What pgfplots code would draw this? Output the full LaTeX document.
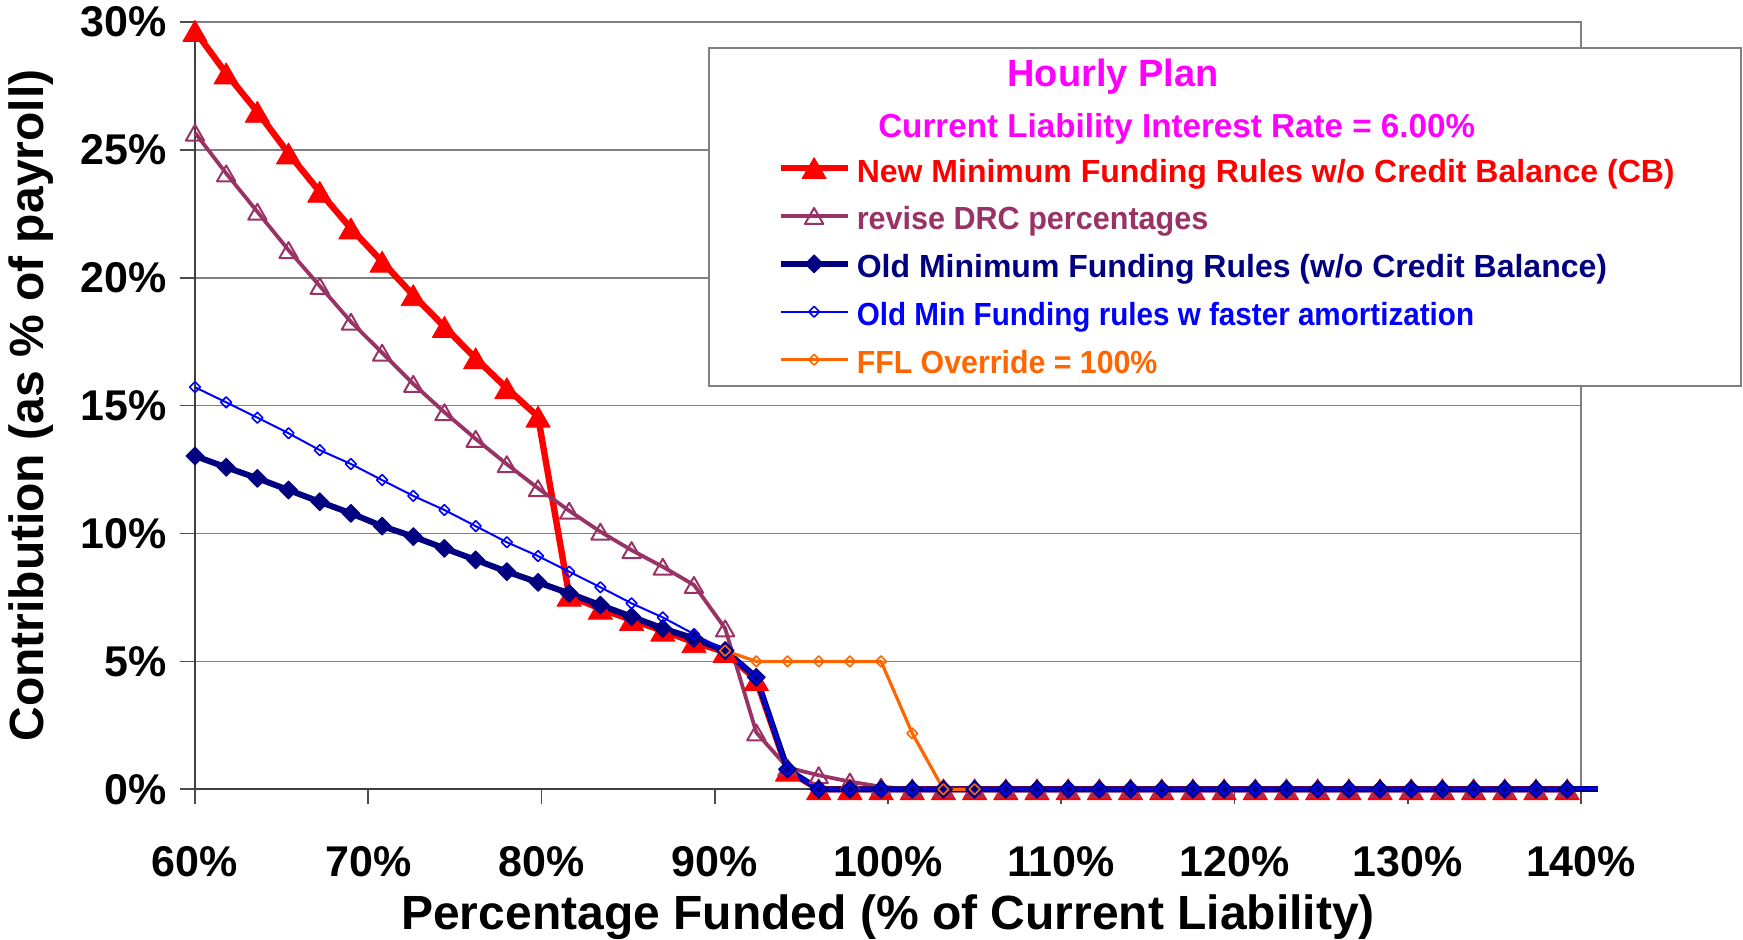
\documentclass[border=0pt]{standalone}
\usepackage{pgfplots}
\pgfplotsset{compat=1.18}
\usepackage{pgfplotstable}
\usepackage{graphicx}
\usepackage{fontspec}
\setmainfont{Liberation Sans}
\definecolor{cred}{RGB}{255,0,0}
\definecolor{cplum}{RGB}{153,51,102}
\definecolor{cnavy}{RGB}{0,0,128}
\definecolor{cblue}{RGB}{0,0,255}
\definecolor{corange}{RGB}{255,102,0}
\definecolor{cmag}{RGB}{255,0,255}
\definecolor{cgrid}{RGB}{128,128,128}
\pgfplotstableread{
x new drc old fast
60.0 29.65 25.67 13.03 15.72
61.8 27.99 24.08 12.59 15.13
63.6 26.49 22.58 12.16 14.53
65.4 24.86 21.08 11.70 13.92
67.2 23.36 19.68 11.24 13.26
69.0 21.93 18.28 10.79 12.72
70.8 20.63 17.07 10.29 12.09
72.6 19.32 15.85 9.88 11.47
74.4 18.08 14.74 9.42 10.92
76.2 16.85 13.70 8.97 10.29
78.0 15.68 12.71 8.51 9.66
79.8 14.57 11.77 8.09 9.12
81.6 7.57 10.89 7.66 8.51
83.4 7.06 10.07 7.20 7.90
85.2 6.62 9.35 6.75 7.27
87.0 6.20 8.70 6.29 6.72
88.8 5.75 7.99 5.90 6.07
90.6 5.37 6.29 5.42 5.42
92.4 4.27 2.22 4.38 4.38
94.2 0.73 0.85 0.78 0.78
96.0 0 0.55 0 0
97.8 0 0.30 0 0
99.6 0 0.10 0 0
101.4 0 0 0 0
103.2 0 0 0 0
105.0 0 0 0 0
106.8 0 0 0 0
108.6 0 0 0 0
110.4 0 0 0 0
112.2 0 0 0 0
114.0 0 0 0 0
115.8 0 0 0 0
117.6 0 0 0 0
119.4 0 0 0 0
121.2 0 0 0 0
123.0 0 0 0 0
124.8 0 0 0 0
126.6 0 0 0 0
128.4 0 0 0 0
130.2 0 0 0 0
132.0 0 0 0 0
133.8 0 0 0 0
135.6 0 0 0 0
137.4 0 0 0 0
139.2 0 0 0 0
}\maindata
\pgfplotstableread{
x ffl
90.6 5.42
92.4 5.0
94.2 5.0
96.0 5.0
97.8 5.0
99.6 5.0
101.4 2.19
103.2 0
105.0 0
}\ffldata
\begin{document}
\begin{tikzpicture}
\begin{axis}[
  scale only axis, width=693pt, height=383.65pt,
  xmin=60, xmax=140, ymin=0, ymax=30,
  xtick={60,70,...,140},
  xticklabels={60\%,70\%,80\%,90\%,100\%,110\%,120\%,130\%,140\%},
  ytick={0,5,...,30},
  yticklabels={0\%,5\%,10\%,15\%,20\%,25\%,30\%},
  ymajorgrids, major grid style={cgrid, line width=0.75pt},
  axis line style={cgrid, line width=0.8pt},
  tick pos=left, tick align=outside, major tick length=7.5pt,
  tick style={black!70, line width=0.8pt},
  clip=false,
  tick label style={font=\fontsize{21.5}{24}\selectfont\bfseries},
  yticklabel style={anchor=east, inner sep=0pt, xshift=-6.5pt},
  xticklabel style={anchor=north, inner sep=0pt, yshift=-21pt},
  xlabel={Percentage Funded (\% of Current Liability)},
  ylabel={Contribution (as \% of payroll)},
  label style={font=\fontsize{24}{28}\selectfont\bfseries},
  xlabel style={at={(axis description cs:0.5,-0.18207)}, anchor=base, inner sep=0pt},
  ylabel style={at={(axis description cs:-0.10895,0.5)}, anchor=base, inner sep=0pt},
  legend cell align=left,
  legend image code/.code={\draw[mark repeat=2,mark phase=2,#1] plot coordinates {(0pt,0pt) (16.75pt,0pt) (33.5pt,0pt)};},
  legend style={at={(axis description cs:0.41991,0.83096)}, anchor=north west,
    draw=none, fill=none, inner sep=0pt, row sep=7.95pt, column sep=3pt,
    font=\fontsize{16}{18}\selectfont\bfseries,
    nodes={inner sep=0pt, text height=15pt, text depth=1pt}},
]
\draw[black!75, line width=1.1pt] (rel axis cs:0,1) -- (rel axis cs:0,0) -- (rel axis cs:1,0);
\addplot[cred, line width=3.2pt, line join=round, mark=triangle*, mark size=7pt,
  mark options={solid, line width=0.4pt, fill=cred, draw=cred, yshift=-1.75pt}]
  table[x=x,y=new]{\maindata};
\addlegendentry{\textcolor{cred}{New Minimum Funding Rules w/o Credit Balance (CB)}}
\addplot[cplum, line width=1.9pt, line join=round, mark=triangle, mark size=5.3pt,
  mark options={solid, line width=1pt, draw=cplum, yshift=-1.3pt}]
  table[x=x,y=drc]{\maindata};
\addlegendentry{\textcolor{cplum}{\scalebox{0.955}[1]{revise DRC percentages}}}
\addplot[cnavy, line width=3pt, line join=round, mark=square*, mark size=3.2pt,
  mark options={solid, line width=0.4pt, fill=cnavy, draw=cnavy, rotate=45}]
  table[x=x,y=old]{\maindata};
\addlegendentry{\textcolor{cnavy}{Old Minimum Funding Rules (w/o Credit Balance)}}
\addplot[cblue, line width=1pt, line join=round, mark=square, mark size=1.9pt,
  mark options={solid, line width=0.8pt, draw=cblue, rotate=45}]
  table[x=x,y=fast]{\maindata};
\addlegendentry{\textcolor{cblue}{\scalebox{0.926}[1]{Old Min Funding rules w faster amortization}}}
\addplot[corange, line width=1.6pt, line join=round, mark=square, mark size=1.9pt,
  mark options={solid, line width=0.8pt, draw=corange, rotate=45}]
  table[x=x,y=ffl]{\ffldata};
\addlegendentry{\textcolor{corange}{\scalebox{0.947}[1]{FFL Override = 100\%}}}
\addplot[cnavy, line width=3pt, forget plot] coordinates {(139.2,0) (141.0,0)};
\addplot[cblue, line width=1pt, forget plot] coordinates {(139.2,0) (141.0,0)};
\draw[cgrid, line width=1pt, fill=white] (axis description cs:0.37056,0.52600) rectangle (axis description cs:1.11544,0.96572);
\node[anchor=base, inner sep=0pt, text=cmag, font=\fontsize{19}{22}\selectfont\bfseries] at (axis description cs:0.66234,0.91568) {Hourly Plan};
\node[anchor=base, inner sep=0pt, text=cmag, font=\fontsize{16.6}{18}\selectfont\bfseries] at (axis description cs:0.70830,0.84973) {Current Liability Interest Rate = 6.00\%};
\end{axis}
\pgfresetboundingbox
\useasboundingbox (-97.5pt,-75.35pt) rectangle (774pt,394.65pt);
\end{tikzpicture}
\end{document}
